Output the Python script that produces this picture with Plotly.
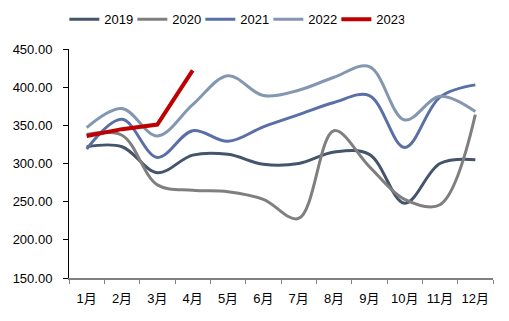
import plotly.graph_objects as go

months = ["1月", "2月", "3月", "4月", "5月", "6月", "7月", "8月", "9月", "10月", "11月", "12月"]
y2019 = [322, 322, 288, 311, 312, 299, 300, 315, 312, 248, 300, 305]
y2020 = [338, 337, 272, 265, 263, 253, 228, 343, 296, 253, 246, 364]
y2021 = [319, 358, 308, 343, 329, 348, 364, 380, 389, 321, 387, 403]
y2022 = [347, 372, 336, 377, 415, 389, 396, 413, 427, 357, 388, 368]
y2023 = [336, 345, 351, 422]
years = ["2019", "2020", "2021", "2022", "2023"]
colors = ["#44546A", "#7F7F7F", "#5A6FA6", "#8497B0", "#C00000"]

fig = go.Figure()
for name, vals, col in zip(years, [y2019, y2020, y2021, y2022, y2023], colors):
    smooth = name != "2023"
    fig.add_trace(go.Scatter(
        x=months[:len(vals)], y=vals, name=name, mode="lines",
        line=dict(color=col, width=4 if name == "2023" else 3,
                  shape="spline" if smooth else "linear", smoothing=1.0),
    ))

fig.update_layout(
    width=509, height=321,
    margin=dict(l=69, r=16, t=49, b=43, autoexpand=False),
    paper_bgcolor="white", plot_bgcolor="white",
    font=dict(family="Liberation Sans, Arial, sans-serif", size=13, color="#000000"),
    showlegend=True,
    legend=dict(orientation="h", x=-0.011, xanchor="left", y=1.13, yanchor="middle",
                font=dict(size=13), entrywidth=23, entrywidthmode="pixels",
                itemwidth=30, tracegroupgap=0),
    xaxis=dict(type="category", range=[-0.5, 11.5], showgrid=False,
               showline=True, linecolor="#808080", linewidth=1.5,
               ticks="outside", tickson="boundaries", ticklen=4, tickcolor="#808080",
               tickangle=0, ticklabelstandoff=8,
               tickfont=dict(size=13, family="Liberation Sans, Noto Sans CJK SC, sans-serif")),
    yaxis=dict(range=[150, 450], dtick=50, tickformat=".2f", showgrid=False,
               showline=True, linecolor="#000000", linewidth=1,
               ticks="outside", ticklen=5, tickcolor="#000000", zeroline=False,
               ticklabelstandoff=8, tickfont=dict(size=13)),
)

fig.write_html("out.html")
